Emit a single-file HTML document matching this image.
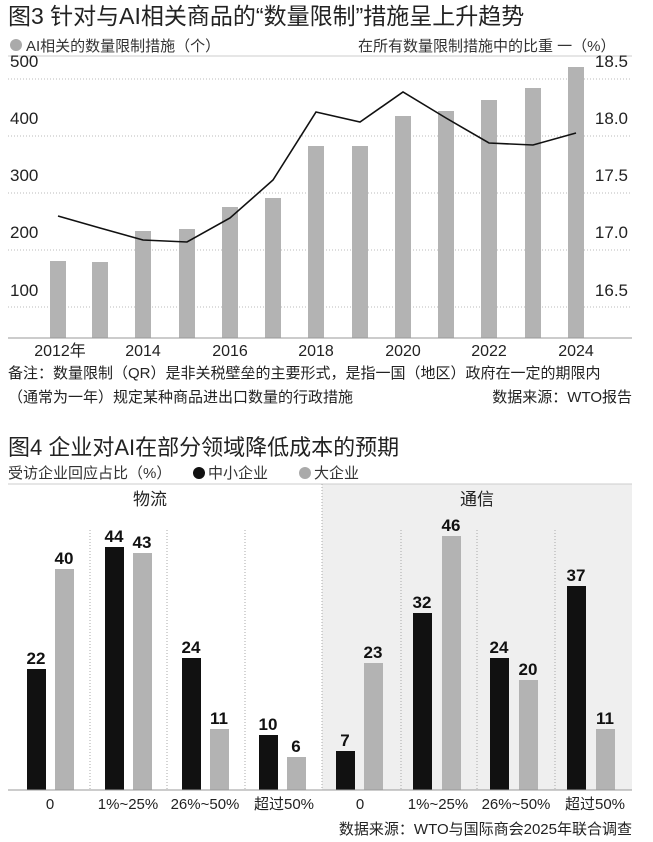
<!DOCTYPE html>
<html><head><meta charset="utf-8"><style>
body{margin:0;background:#fff;}
svg{display:block;font-family:"Liberation Sans","Noto Sans CJK SC",sans-serif;}
</style></head><body>
<svg width="653" height="842" viewBox="0 0 653 842">
<rect width="653" height="842" fill="#fff"/>
<text x="8" y="24" font-size="23" fill="#222">图3 针对与AI相关商品的“数量限制”措施呈上升趋势</text>
<circle cx="16" cy="45" r="6" fill="#aaa"/>
<text x="26" y="51" font-size="15" fill="#333">AI相关的数量限制措施（个）</text>
<text x="358" y="51" font-size="15" fill="#333">在所有数量限制措施中的比重 一（%）</text>
<line x1="8" y1="56" x2="632" y2="56" stroke="#ccc"/>
<g stroke="#bbb" stroke-dasharray="1,2">
<line x1="8" y1="79" x2="632" y2="79"/><line x1="8" y1="136" x2="632" y2="136"/><line x1="8" y1="193" x2="632" y2="193"/><line x1="8" y1="250" x2="632" y2="250"/><line x1="8" y1="307" x2="632" y2="307"/>
</g>
<g font-size="17" fill="#222">
<text x="10" y="67">500</text><text x="10" y="124">400</text><text x="10" y="181">300</text><text x="10" y="238">200</text><text x="10" y="296">100</text>
<text x="628" y="67" text-anchor="end">18.5</text><text x="628" y="124" text-anchor="end">18.0</text><text x="628" y="181" text-anchor="end">17.5</text><text x="628" y="238" text-anchor="end">17.0</text><text x="628" y="296" text-anchor="end">16.5</text>
</g>
<g fill="#b3b3b3">
<rect x="50" y="261" width="16" height="77"/><rect x="92" y="262" width="16" height="76"/><rect x="135" y="231" width="16" height="107"/><rect x="179" y="229" width="16" height="109"/><rect x="222" y="207" width="16" height="131"/><rect x="265" y="198" width="16" height="140"/><rect x="308" y="146" width="16" height="192"/><rect x="352" y="146" width="16" height="192"/><rect x="395" y="116" width="16" height="222"/><rect x="438" y="111" width="16" height="227"/><rect x="481" y="100" width="16" height="238"/><rect x="525" y="88" width="16" height="250"/><rect x="568" y="67" width="16" height="271"/>
</g>
<line x1="8" y1="338" x2="632" y2="338" stroke="#999"/>
<polyline fill="none" stroke="#111" stroke-width="1.6" points="58,216 100,228 143,240 187,242 230,218 273,180 316,112 360,122 403,92 446,118 489,143 533,145 576,133"/>
<g font-size="16" fill="#222" text-anchor="middle">
<text x="60" y="356">2012年</text><text x="143" y="356">2014</text><text x="230" y="356">2016</text><text x="316" y="356">2018</text><text x="403" y="356">2020</text><text x="489" y="356">2022</text><text x="576" y="356">2024</text>
</g>
<text x="8" y="378" font-size="15" fill="#222">备注：数量限制（QR）是非关税壁垒的主要形式，是指一国（地区）政府在一定的期限内</text>
<text x="8" y="402" font-size="15" fill="#222">（通常为一年）规定某种商品进出口数量的行政措施</text>
<text x="632" y="402" font-size="15" fill="#222" text-anchor="end">数据来源：WTO报告</text>

<text x="8" y="455" font-size="22" fill="#222">图4 企业对AI在部分领域降低成本的预期</text>
<text x="8" y="478" font-size="15" fill="#333">受访企业回应占比（%）</text>
<circle cx="199" cy="473" r="6" fill="#111"/><text x="208" y="478" font-size="15" fill="#333">中小企业</text>
<circle cx="305" cy="473" r="6" fill="#aaa"/><text x="314" y="478" font-size="15" fill="#333">大企业</text>
<rect x="322" y="484" width="310" height="306" fill="#efefef"/>
<line x1="8" y1="484" x2="632" y2="484" stroke="#ccc"/>
<text x="150" y="505" font-size="17" fill="#222" text-anchor="middle">物流</text>
<text x="477" y="505" font-size="17" fill="#222" text-anchor="middle">通信</text>
<g stroke="#aaa" stroke-dasharray="1,2">
<line x1="90" y1="530" x2="90" y2="790"/><line x1="167" y1="530" x2="167" y2="790"/><line x1="245" y1="530" x2="245" y2="790"/><line x1="322" y1="484" x2="322" y2="790"/><line x1="401" y1="530" x2="401" y2="790"/><line x1="477" y1="530" x2="477" y2="790"/><line x1="555" y1="530" x2="555" y2="790"/>
</g>
<g fill="#111">
<rect x="27" y="669" width="19" height="121"/><rect x="105" y="547" width="19" height="243"/><rect x="182" y="658" width="19" height="132"/><rect x="259" y="735" width="19" height="55"/>
<rect x="336" y="751" width="19" height="39"/><rect x="413" y="613" width="19" height="177"/><rect x="490" y="658" width="19" height="132"/><rect x="567" y="586" width="19" height="204"/>
</g>
<g fill="#b3b3b3">
<rect x="55" y="569" width="19" height="221"/><rect x="133" y="553" width="19" height="237"/><rect x="210" y="729" width="19" height="61"/><rect x="287" y="757" width="19" height="33"/>
<rect x="364" y="663" width="19" height="127"/><rect x="442" y="536" width="19" height="254"/><rect x="519" y="680" width="19" height="110"/><rect x="596" y="729" width="19" height="61"/>
</g>
<g font-size="17" font-weight="bold" fill="#111" text-anchor="middle">
<text x="36" y="664">22</text><text x="64" y="564">40</text><text x="114" y="542">44</text><text x="142" y="548">43</text><text x="191" y="653">24</text><text x="219" y="724">11</text><text x="268" y="730">10</text><text x="296" y="752">6</text>
<text x="345" y="746">7</text><text x="373" y="658">23</text><text x="422" y="608">32</text><text x="451" y="531">46</text><text x="499" y="653">24</text><text x="528" y="675">20</text><text x="576" y="581">37</text><text x="605" y="724">11</text>
</g>
<line x1="8" y1="790" x2="632" y2="790" stroke="#999"/>
<g font-size="15" fill="#222" text-anchor="middle">
<text x="50" y="809">0</text><text x="128" y="809">1%~25%</text><text x="205" y="809">26%~50%</text><text x="284" y="809">超过50%</text>
<text x="360" y="809">0</text><text x="438" y="809">1%~25%</text><text x="516" y="809">26%~50%</text><text x="595" y="809">超过50%</text>
</g>
<text x="632" y="834" font-size="15" fill="#222" text-anchor="end">数据来源：WTO与国际商会2025年联合调查</text>
</svg>
</body></html>
